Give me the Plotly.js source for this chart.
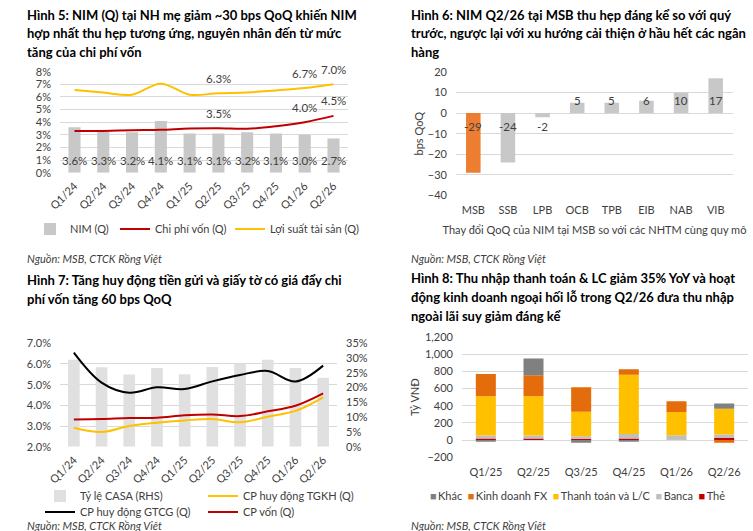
<!DOCTYPE html>
<html>
<head>
<meta charset="utf-8">
<script src="https://cdn.plot.ly/plotly-3.0.1.min.js"></script>
<style>
  html, body { margin: 0; padding: 0; background: #fff; }
  #chart { width: 753px; height: 531px; }
</style>
</head>
<body>
<div id="chart"></div>
<script>
// Hình 5 + Hình 7: quý
const quarters = ['Q1/24', 'Q2/24', 'Q3/24', 'Q4/24', 'Q1/25', 'Q2/25', 'Q3/25', 'Q4/25', 'Q1/26', 'Q2/26'];
const nim = [3.6, 3.3, 3.2, 4.1, 3.1, 3.1, 3.2, 3.1, 3.0, 2.7];
const costOfFunds = [3.30, 3.31, 3.36, 3.40, 3.50, 3.52, 3.48, 3.68, 4.0, 4.5];
const assetYield = [6.55, 6.35, 6.18, 7.05, 6.18, 6.3, 6.35, 6.52, 6.7, 7.0];
const labelIdx = [5, 8, 9];

// Hình 6
const banks = ['MSB', 'SSB', 'LPB', 'OCB', 'TPB', 'EIB', 'NAB', 'VIB'];
const nimChange = [-29, -24, -2, 5, 5, 6, 10, 17];

// Hình 7
const casa = [29.4, 26.9, 24.4, 26.6, 24.5, 27.0, 28.1, 29.4, 26.6, 23.3];
const depositCost = [2.92, 2.71, 3.0, 3.16, 3.27, 3.34, 3.18, 3.45, 3.73, 4.39];
const paperCost = [6.55, 5.1, 4.61, 4.87, 4.79, 5.16, 5.47, 5.66, 5.15, 5.92];
const fundingCost = [3.32, 3.34, 3.39, 3.40, 3.52, 3.56, 3.48, 3.71, 3.98, 4.58];

// Hình 8
const quarters8 = ['Q1/25', 'Q2/25', 'Q3/25', 'Q4/25', 'Q1/26', 'Q2/26'];
const card = [20, 20, 15, 20, 3, 25];
const banca = [35, 35, 30, 50, 55, 40];
const payment = [455, 455, 285, 690, 270, 300];
const fx = [260, 245, 285, 65, 125, -30];
const other = [-20, 195, -30, -20, 0, 60];

const W = 753, H = 531;
const px = x => x / W;
const py = y => 1 - y / H;

const GRID = '#d9d9d9';
const RED = '#c00000';
const YELLOW = '#ffc000';
const TXT = '#404040';

const stack8 = [
  {name: 'Thẻ', y: card, color: '#c00000'},
  {name: 'Banca', y: banca, color: '#bfbfbf'},
  {name: 'Thanh toán và L/C', y: payment, color: '#ffc000'},
  {name: 'Kinh doanh FX', y: fx, color: '#e46c0a'},
  {name: 'Khác', y: other, color: '#808080'}
];

const traces = [
  // Hình 5
  {type: 'bar', x: quarters, y: nim, name: 'NIM (Q)', xaxis: 'x', yaxis: 'y',
   marker: {color: '#c8c8c8'}, legend: 'legend'},
  {type: 'scatter', mode: 'lines', x: quarters, y: costOfFunds, name: 'Chi phí vốn (Q)',
   xaxis: 'x', yaxis: 'y', line: {color: RED, width: 2, shape: 'spline'}, legend: 'legend2'},
  {type: 'scatter', mode: 'lines', x: quarters, y: assetYield, name: 'Lợi suất tài sản (Q)',
   xaxis: 'x', yaxis: 'y', line: {color: YELLOW, width: 2, shape: 'spline'}, legend: 'legend3'},
  // Hình 6
  {type: 'bar', x: banks, y: nimChange, xaxis: 'x2', yaxis: 'y2', showlegend: false,
   marker: {color: banks.map(b => b === 'MSB' ? '#ed7d31' : '#c8c8c8')}},
  // Hình 7
  {type: 'bar', x: quarters, y: casa, name: 'Tỷ lệ CASA (RHS)', xaxis: 'x3', yaxis: 'y3',
   marker: {color: '#e0e0e0'}, legend: 'legend4'},
  {type: 'scatter', mode: 'lines', x: quarters, y: depositCost, name: 'CP huy động TGKH (Q)',
   xaxis: 'x3', yaxis: 'y4', line: {color: YELLOW, width: 2, shape: 'spline'}, legend: 'legend5'},
  {type: 'scatter', mode: 'lines', x: quarters, y: paperCost, name: 'CP huy động GTCG (Q)',
   xaxis: 'x3', yaxis: 'y4', line: {color: '#000', width: 2, shape: 'spline'}, legend: 'legend6'},
  {type: 'scatter', mode: 'lines', x: quarters, y: fundingCost, name: 'CP vốn (Q)',
   xaxis: 'x3', yaxis: 'y4', line: {color: RED, width: 2, shape: 'spline'}, legend: 'legend7'}
];
// Hình 8
stack8.forEach(s => traces.push({type: 'bar', x: quarters8, y: s.y, name: s.name,
  xaxis: 'x4', yaxis: 'y5', marker: {color: s.color}, showlegend: false}));

function titleLines(lines, x0, y0, step) {
  return lines.map((t, i) => ({
    xref: 'paper', yref: 'paper', x: px(x0), y: py(y0 + i * step),
    xanchor: 'left', yanchor: 'middle', showarrow: false,
    text: '<b>' + t + '</b>', font: {size: 13, color: '#000'}
  }));
}
function source(x0, y0) {
  return {xref: 'paper', yref: 'paper', x: px(x0), y: py(y0), xanchor: 'left', yanchor: 'middle',
    showarrow: false, text: '<i>Nguồn: MSB, CTCK Rồng Việt</i>', font: {size: 11, color: TXT}};
}
function legendAt(textX, y) {
  return {x: px(textX - 40), y: py(y), xanchor: 'left', yanchor: 'middle', orientation: 'h',
    bgcolor: 'rgba(0,0,0,0)', font: {size: 11, color: TXT}};
}

const annotations = [
  ...titleLines(['Hình 5: NIM (Q) tại NH mẹ giảm ~30 bps QoQ khiến NIM',
    'hợp nhất thu hẹp tương ứng, nguyên nhân đến từ mức', 'tăng của chi phí vốn'], 25, 15, 18.5),
  ...titleLines(['Hình 6: NIM Q2/26 tại MSB thu hẹp đáng kể so với quý',
    'trước, ngược lại với xu hướng cải thiện ở hầu hết các ngân', 'hàng'], 409, 15, 18.5),
  ...titleLines(['Hình 7: Tăng huy động tiền gửi và giấy tờ có giá đẩy chi',
    'phí vốn tăng 60 bps QoQ'], 25, 280, 18.5),
  ...titleLines(['Hình 8: Thu nhập thanh toán &amp; LC giảm 35% YoY và hoạt',
    'động kinh doanh ngoại hối lỗ trong Q2/26 đưa thu nhập', 'ngoài lãi suy giảm đáng kể'], 409, 278, 19.2),
  source(25, 258), source(409, 258), source(25, 525), source(409, 525)
];

// nhãn cột NIM
quarters.forEach((q, i) => annotations.push({xref: 'x', yref: 'y', x: q, y: 0, yshift: 12,
  showarrow: false, text: nim[i].toFixed(1) + '%', font: {size: 11.5, color: TXT}}));
// nhãn đường
labelIdx.forEach(i => {
  annotations.push({xref: 'x', yref: 'y', x: quarters[i], y: assetYield[i], yshift: 15,
    showarrow: false, text: assetYield[i].toFixed(1) + '%', font: {size: 11.5, color: TXT}});
  annotations.push({xref: 'x', yref: 'y', x: quarters[i], y: costOfFunds[i], yshift: 15,
    showarrow: false, text: costOfFunds[i].toFixed(1) + '%', font: {size: 11.5, color: TXT}});
});
// nhãn Hình 6
banks.forEach((b, i) => annotations.push({xref: 'x2', yref: 'y2', x: b, y: 0,
  yshift: nimChange[i] > 0 ? 13 : -13, showarrow: false, text: String(nimChange[i]),
  font: {size: 11.5, color: TXT}}));
// chú giải Hình 8
annotations.push({xref: 'paper', yref: 'paper', x: px(428), y: py(495), xanchor: 'left', yanchor: 'middle',
  showarrow: false, font: {size: 11, color: TXT},
  text: stack8.slice().reverse().map(s => '<span style="color:' + s.color + '">■</span>\u2009' + s.name).join('  ')});

const catAxis = {type: 'category', showgrid: false, zeroline: false, showline: false, ticks: '',
  tickfont: {size: 11, color: TXT}};
const valAxis = {gridcolor: GRID, gridwidth: 1, zeroline: false, showline: false, ticks: '',
  tickfont: {size: 11, color: TXT}, ticklabelstandoff: 8};

const layout = {
  width: W, height: H,
  margin: {l: 0, r: 0, t: 0, b: 0},
  paper_bgcolor: '#fff', plot_bgcolor: 'rgba(0,0,0,0)',
  font: {family: 'Lato, "Open Sans", sans-serif', size: 11, color: TXT},
  barmode: 'relative', bargap: 0.58,
  showlegend: true,
  hovermode: false,
  xaxis: {...catAxis, domain: [px(60), px(348)], anchor: 'y', tickangle: -45, ticklabelstandoff: 4},
  yaxis: {...valAxis, domain: [py(172.7), py(71.7)], anchor: 'x', range: [0, 8], dtick: 1, ticksuffix: '%'},
  xaxis2: {...catAxis, domain: [px(456), px(733)], anchor: 'y2', ticklabelstandoff: 7,
    title: {text: 'Thay đổi QoQ của NIM tại MSB so với các NHTM cùng quy mô', font: {size: 11, color: TXT}, standoff: 11}},
  yaxis2: {...valAxis, domain: [py(195.3), py(72)], anchor: 'x2', range: [-40, 20], dtick: 10,
    title: {text: 'bps QoQ', font: {size: 11, color: TXT}, standoff: 2}},
  xaxis3: {...catAxis, domain: [px(60), px(337)], anchor: 'y3', tickangle: -45, ticklabelstandoff: 4},
  yaxis3: {...valAxis, domain: [py(446.7), py(343.3)], anchor: 'x3', side: 'right', range: [0, 35], dtick: 5,
    ticksuffix: '%', showgrid: false},
  yaxis4: {...valAxis, overlaying: 'y3', anchor: 'x3', side: 'left', range: [2, 7], dtick: 1,
    tickformat: '.1f', ticksuffix: '%'},
  xaxis4: {...catAxis, domain: [px(462), px(748)], anchor: 'y5', ticklabelstandoff: 7},
  yaxis5: {...valAxis, domain: [py(457.3), py(337)], anchor: 'x4', range: [-200, 1200], dtick: 200,
    tickformat: ',d', title: {text: 'Tỷ VNĐ', font: {size: 11, color: TXT}, standoff: 3}},
  legend: legendAt(70, 229),
  legend2: legendAt(155, 229),
  legend3: legendAt(270, 229),
  legend4: legendAt(80, 496),
  legend5: legendAt(243, 496),
  legend6: legendAt(80, 512),
  legend7: legendAt(243, 512),
  annotations: annotations
};

Plotly.newPlot('chart', traces, layout, {staticPlot: true, displayModeBar: false});
</script>
</body>
</html>
